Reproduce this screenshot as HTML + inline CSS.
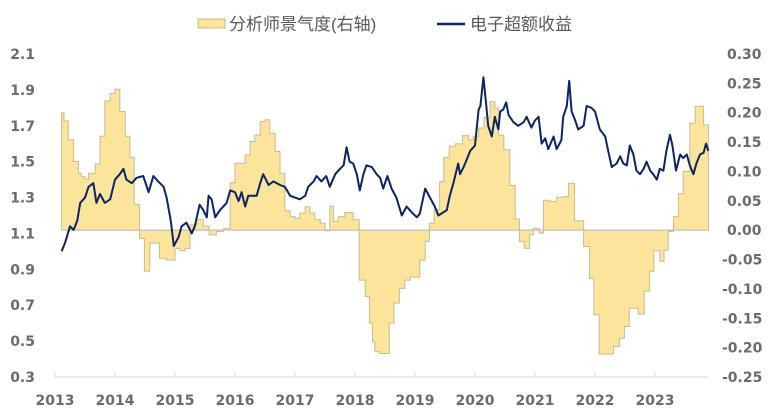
<!DOCTYPE html>
<html><head><meta charset="utf-8">
<style>
html,body{margin:0;padding:0;background:#fff;}
body{width:771px;height:414px;overflow:hidden;}
svg{display:block;}
.tk{font-family:"DejaVu Sans","Liberation Sans",sans-serif;font-weight:bold;font-size:14px;fill:#6b6b6b;}
.lg{font-family:"Liberation Sans","Noto Sans CJK SC",sans-serif;font-size:17px;fill:#595959;}
</style></head>
<body>
<svg id="chart" width="771" height="414">
  <g>
    <rect x="198" y="19" width="27" height="9" fill="#fde49b" stroke="#c9b98a" stroke-width="1"/>
    <text class="lg" x="229" y="30">分析师景气度(右轴)</text>
    <line x1="437" y1="24" x2="465" y2="24" stroke="#0a2466" stroke-width="2.5"/>
    <text class="lg" x="470" y="30">电子超额收益</text>
  </g>
  <g id="bars"></g>
  <g id="axes"></g>
  <g id="line"></g>
</svg>
<script>
// Analyst sentiment (right axis): step start times (years since 2013) and values
const barT = [0.11,0.15,0.22,0.31,0.39,0.44,0.50,0.56,0.67,0.75,0.83,0.92,1.00,1.08,1.17,1.25,1.32,1.41,1.49,1.58,1.74,1.85,2.00,2.08,2.17,2.25,2.36,2.47,2.57,2.69,2.81,2.92,3.00,3.17,3.25,3.33,3.42,3.50,3.58,3.67,3.75,3.83,3.92,4.00,4.08,4.17,4.25,4.33,4.42,4.50,4.58,4.64,4.72,4.83,4.97,5.07,5.17,5.24,5.29,5.33,5.41,5.57,5.65,5.74,5.83,5.92,6.08,6.17,6.24,6.32,6.41,6.48,6.57,6.67,6.79,6.89,6.97,7.06,7.15,7.25,7.33,7.39,7.48,7.58,7.67,7.74,7.82,7.91,7.97,8.07,8.14,8.25,8.36,8.46,8.56,8.66,8.81,8.91,8.98,9.07,9.31,9.41,9.49,9.57,9.72,9.82,9.91,9.98,10.08,10.15,10.22,10.31,10.39,10.47,10.58,10.67,10.81];
const barV = [0.200,0.186,0.154,0.117,0.097,0.091,0.087,0.097,0.113,0.160,0.220,0.233,0.240,0.202,0.160,0.124,0.044,-0.014,-0.070,-0.022,-0.048,-0.051,-0.031,-0.035,-0.031,0.009,0.018,0.007,-0.008,-0.002,0.003,0.081,0.114,0.128,0.151,0.162,0.185,0.188,0.165,0.134,0.097,0.033,0.023,0.020,0.029,0.040,0.029,0.018,0.012,-0.001,0.041,0.015,0.023,0.030,0.018,-0.085,-0.113,-0.158,-0.190,-0.207,-0.210,-0.158,-0.124,-0.099,-0.085,-0.080,-0.051,-0.019,0.012,0.035,0.083,0.124,0.143,0.147,0.161,0.154,0.160,0.174,0.192,0.219,0.208,0.162,0.137,0.076,0.019,-0.019,-0.031,-0.008,0.003,-0.005,0.051,0.049,0.056,0.057,0.080,0.016,-0.028,-0.082,-0.144,-0.211,-0.198,-0.184,-0.164,-0.133,-0.143,-0.104,-0.070,-0.035,-0.053,-0.034,-0.002,0.023,0.062,0.100,0.182,0.211,0.179];
const barEnd = 10.89;
// Electronics excess return (left axis)
const lineT = [0.11,0.17,0.25,0.31,0.37,0.42,0.50,0.56,0.64,0.69,0.75,0.83,0.92,1.00,1.08,1.14,1.19,1.28,1.36,1.47,1.56,1.64,1.72,1.81,1.86,1.93,1.98,2.06,2.11,2.19,2.28,2.33,2.41,2.47,2.53,2.56,2.61,2.67,2.75,2.86,2.92,3.00,3.06,3.11,3.17,3.22,3.36,3.42,3.47,3.56,3.64,3.75,3.83,3.92,4.08,4.17,4.22,4.31,4.36,4.44,4.52,4.58,4.67,4.75,4.81,4.86,4.91,4.97,5.03,5.08,5.14,5.19,5.28,5.36,5.42,5.47,5.54,5.61,5.69,5.78,5.86,5.94,6.03,6.08,6.17,6.25,6.33,6.39,6.53,6.58,6.64,6.72,6.75,6.81,6.86,6.92,7.00,7.06,7.09,7.14,7.18,7.22,7.28,7.33,7.39,7.42,7.47,7.52,7.56,7.64,7.72,7.81,7.86,7.94,8.00,8.06,8.11,8.17,8.22,8.31,8.36,8.44,8.47,8.53,8.57,8.61,8.67,8.72,8.81,8.86,8.94,9.00,9.08,9.17,9.22,9.28,9.36,9.42,9.47,9.53,9.58,9.64,9.69,9.75,9.81,9.86,9.92,9.97,10.03,10.08,10.14,10.19,10.25,10.29,10.35,10.42,10.47,10.53,10.58,10.64,10.69,10.75,10.81,10.85,10.89];
const lineV = [1.00,1.05,1.14,1.12,1.17,1.27,1.30,1.36,1.38,1.27,1.32,1.27,1.29,1.40,1.43,1.46,1.40,1.38,1.41,1.42,1.33,1.42,1.39,1.36,1.30,1.17,1.03,1.08,1.14,1.16,1.10,1.14,1.26,1.23,1.19,1.31,1.29,1.19,1.23,1.27,1.34,1.33,1.28,1.33,1.25,1.31,1.31,1.38,1.43,1.37,1.39,1.37,1.36,1.31,1.29,1.31,1.36,1.39,1.42,1.39,1.42,1.36,1.43,1.46,1.48,1.58,1.50,1.49,1.43,1.34,1.43,1.48,1.47,1.43,1.41,1.35,1.42,1.35,1.30,1.20,1.25,1.22,1.19,1.21,1.35,1.30,1.25,1.20,1.23,1.31,1.38,1.49,1.43,1.47,1.51,1.56,1.59,1.79,1.81,1.97,1.84,1.70,1.64,1.75,1.68,1.78,1.79,1.83,1.76,1.72,1.70,1.72,1.75,1.69,1.73,1.75,1.60,1.63,1.57,1.64,1.57,1.62,1.75,1.81,1.95,1.78,1.73,1.68,1.70,1.81,1.80,1.78,1.68,1.64,1.56,1.47,1.49,1.53,1.49,1.48,1.59,1.54,1.45,1.43,1.46,1.50,1.45,1.43,1.40,1.46,1.45,1.56,1.65,1.59,1.45,1.54,1.52,1.54,1.48,1.43,1.49,1.54,1.55,1.60,1.56];
const leftTicks = ["2.1","1.9","1.7","1.5","1.3","1.1","0.9","0.7","0.5","0.3"];
const rightTicks = ["0.30","0.25","0.20","0.15","0.10","0.05","0.00","-0.05","-0.10","-0.15","-0.20","-0.25"];
const years = ["2013","2014","2015","2016","2017","2018","2019","2020","2021","2022","2023"];

const NS = "http://www.w3.org/2000/svg";
const X0 = 55, PXY = 60, YT = 54, YB = 377, XEND = 708;
const x = t => X0 + t * PXY;
const yL = v => YT + (2.1 - v) / 1.8 * (YB - YT);
const yR = v => YT + (0.30 - v) / 0.55 * (YB - YT);
function mk(tag, attrs, parent){ const e = document.createElementNS(NS, tag); for (const k in attrs) e.setAttribute(k, attrs[k]); parent.appendChild(e); return e; }

// bars (step area)
const gb = document.getElementById('bars');
let d = "M" + x(barT[0]) + "," + yR(0);
for (let i = 0; i < barT.length; i++) {
  const t1 = i + 1 < barT.length ? barT[i + 1] : barEnd;
  d += "L" + x(barT[i]) + "," + yR(barV[i]) + "L" + x(t1) + "," + yR(barV[i]);
}
d += "L" + x(barEnd) + "," + yR(0) + "Z";
const area = mk('path', {d: d, fill: '#fde49b', stroke: '#c9bb94', 'stroke-width': 1}, gb);


const zl = mk('line', {x1: x(barT[0]), x2: x(barEnd), y1: yR(0), y2: yR(0), stroke: '#bfbfbf', 'stroke-width': 1}, gb);



// axes
const ga = document.getElementById('axes');
const ax = mk('line', {x1: X0, x2: XEND, y1: YB, y2: YB, stroke: '#d9d9d9', 'stroke-width': 1}, ga);


years.forEach((yr, i) => {
  const tk = mk('line', {x1: x(i), x2: x(i), y1: YB - 4, y2: YB, stroke: '#d9d9d9', 'stroke-width': 1}, ga);
  
  
  const tx = mk('text', {x: x(i), y: 405, 'text-anchor': 'middle', class: 'tk'}, ga);
  tx.textContent = yr;
  
  
});
leftTicks.forEach(s => {
  const tx = mk('text', {x: 35, y: yL(parseFloat(s)) + 5, 'text-anchor': 'end', class: 'tk'}, ga);
  tx.textContent = s;
  
  
});
rightTicks.forEach(s => {
  const tx = mk('text', {x: s[0] === '-' ? 722 : 727, y: yR(parseFloat(s)) + 5, 'text-anchor': 'start', class: 'tk'}, ga);
  tx.textContent = s;
  
  
});

// line
const gl = document.getElementById('line');
const pts = lineT.map((t, i) => x(t).toFixed(1) + "," + yL(lineV[i]).toFixed(1)).join(" ");
const pl = mk('polyline', {points: pts, fill: 'none', stroke: '#0a2466', 'stroke-width': 2, 'stroke-linejoin': 'round'}, gl);


</script>
</body></html>
